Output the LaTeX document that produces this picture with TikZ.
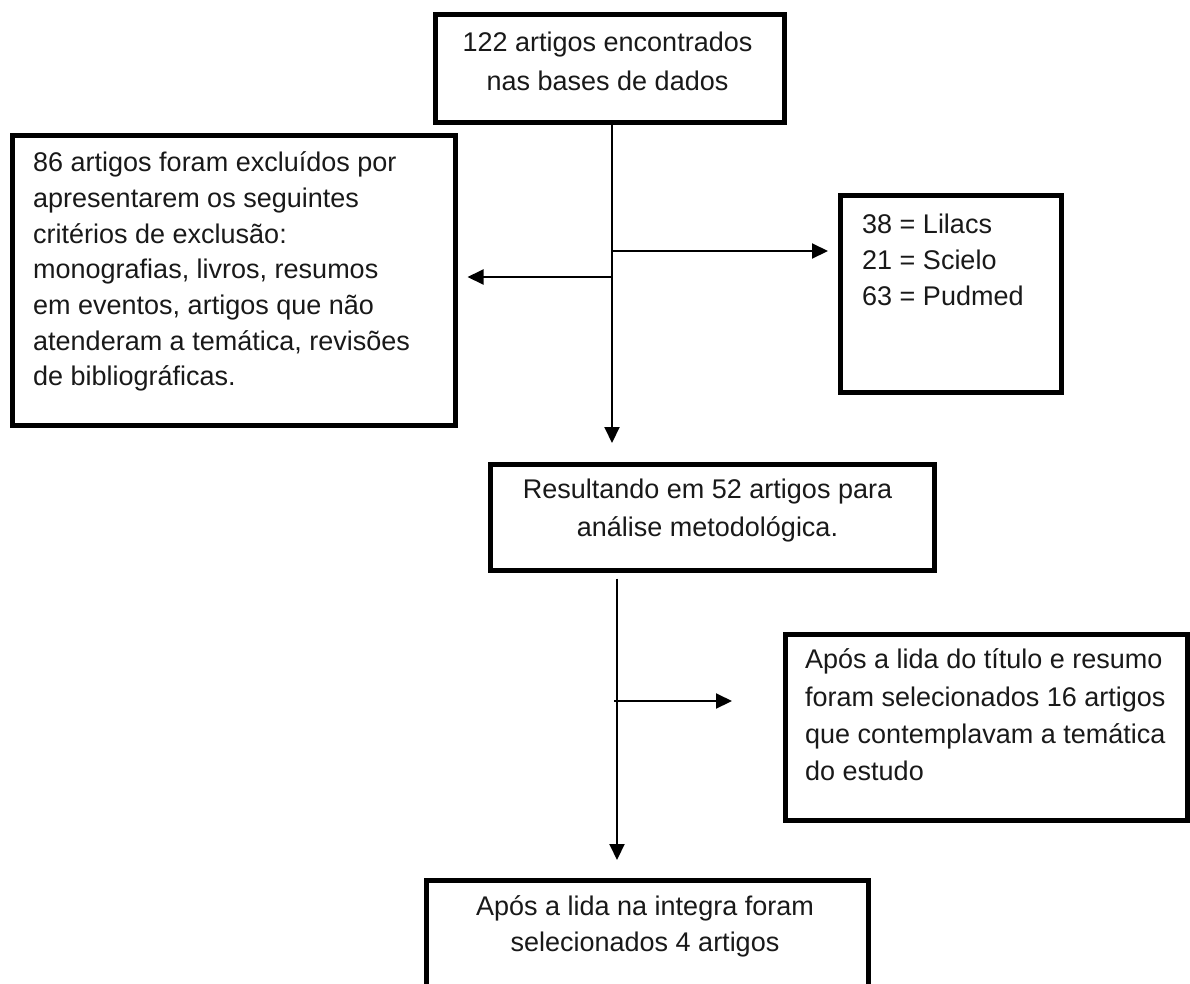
\documentclass[tikz,border=0pt]{standalone}
\usepackage{fontspec}
\setmainfont{Liberation Sans}
\usetikzlibrary{arrows.meta}
\tikzset{
  box/.style={draw=black, line width=4.5pt, inner sep=0pt, anchor=north west, fill=white},
  txt/.style={inner sep=0pt, text=black!90},
  conn/.style={draw=black, line width=2pt},
  arr/.style={conn, -{Triangle[length=16pt,width=15pt]}},
}
\begin{document}
\begin{tikzpicture}[x=1pt,y=-1pt]
\useasboundingbox (0,0) rectangle (1190,983);
\clip (0,0) rectangle (1190,983);
\fill[white] (0,0) rectangle (1190,983);

% boxes
\node[box, minimum width=349pt, minimum height=108pt] (topbox) at (433,12) {};
\node[box, minimum width=443pt, minimum height=290pt] (exc) at (10,133) {};
\node[box, minimum width=221pt, minimum height=197pt] (lil) at (838,193) {};
\node[box, minimum width=444pt, minimum height=106pt] (res) at (488,462) {};
\node[box, minimum width=402pt, minimum height=186pt] (sel) at (783,632) {};
\node[box, minimum width=442pt, minimum height=130pt] (fin) at (424,878) {};

% texts
\node[txt, anchor=north, align=center, font=\fontsize{27}{39}\selectfont] (topT) at (607.5,24.2)
  {\strut 122 artigos encontrados\\nas bases de dados};
\node[txt, anchor=north west, align=left, font=\fontsize{27}{35.7}\selectfont] (excT) at (33,146.5)
  {\strut 86 artigos foram excluídos por\\apresentarem os seguintes\\critérios de exclusão:\\monografias, livros, resumos\\em eventos, artigos que não\\atenderam a temática, revisões\\de bibliográficas.};
\node[txt, anchor=north west, align=left, font=\fontsize{27}{36}\selectfont] (lilT) at (862,208.3)
  {\strut 38 = Lilacs\\21 = Scielo\\63 = Pudmed};
\node[txt, anchor=north, align=center, font=\fontsize{27}{38}\selectfont] (resT) at (707.5,471.9)
  {\strut Resultando em 52 artigos para\\análise metodológica.};
\node[txt, anchor=north west, align=left, font=\fontsize{27}{37.3}\selectfont] (selT) at (805,642.4)
  {\strut Após a lida do título e resumo\\foram selecionados 16 artigos\\que contemplavam a temática\\do estudo};
\node[txt, anchor=north, align=center, font=\fontsize{27}{36}\selectfont] (finT) at (645,890.3)
  {\strut Após a lida na integra foram\\selecionados 4 artigos};

% connectors
\coordinate (c1) at (612,251);
\coordinate (c2) at (612,277);
\coordinate (c3) at (617,701);
\draw[arr, shorten >=19pt] (topbox.south -| c1) -- (res.north -| c1);
\draw[arr, shorten >=10pt] (c1) -- (lil.west |- c1);
\draw[arr, shorten >=10pt] (c2) -- (exc.east |- c2);
\draw[arr, shorten <=6pt, shorten >=18pt] (res.south -| c3) -- (fin.north -| c3);
\draw[arr, shorten >=51pt] ([xshift=-3pt]c3) -- (sel.west |- c3);
\end{tikzpicture}
\end{document}
